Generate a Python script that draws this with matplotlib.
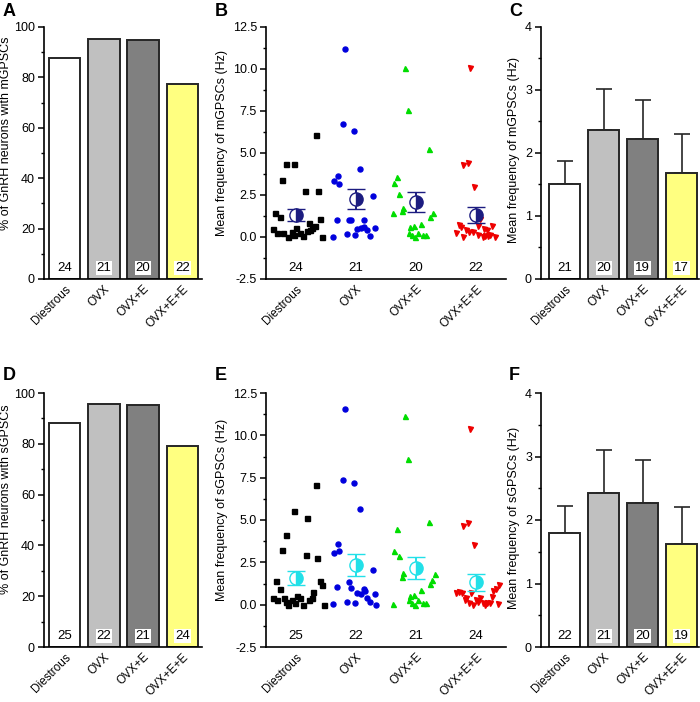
import matplotlib
matplotlib.use('Agg')
import matplotlib.pyplot as plt
from matplotlib.ticker import MultipleLocator, FormatStrFormatter
from matplotlib.transforms import ScaledTranslation

plt.rcParams['font.family'] = ['Liberation Sans', 'DejaVu Sans']
plt.rcParams['axes.unicode_minus'] = False

groups = ['Diestrous', 'OVX', 'OVX+E', 'OVX+E+E']
bar_colors = ['#ffffff', '#c0c0c0', '#808080', '#ffff80']

# A / D : % of cells with events, n recorded
pct_m = [87.5, 95.2, 95.0, 77.3]
n_all_m = [24, 21, 20, 22]
pct_s = [88.0, 95.5, 95.2, 79.2]
n_all_s = [25, 22, 21, 24]

# C / F : mean frequency of responding cells
freq_m = [1.51, 2.37, 2.22, 1.68]
sem_freq_m = [0.37, 0.64, 0.62, 0.62]
n_freq_m = [21, 20, 19, 17]
freq_s = [1.79, 2.43, 2.27, 1.62]
sem_freq_s = [0.43, 0.68, 0.68, 0.59]
n_freq_s = [22, 21, 20, 19]

# B : individual cells, mGPSCs (value, x jitter)
m_dies = [6.05, 4.35, 4.35, 3.37, 2.76, 2.72, 1.43, 1.17, 1.09, 0.83, 0.48, 0.24,
          0.24, 0.0, 0.32, 0.54, 0.24, 0.05, 0.44, 0.54, 0.67, 0.0, 0.10, 0.35]
m_dies_dx = [0.33, -0.17, -0.03, -0.24, 0.15, 0.36, -0.35, -0.27, 0.40, 0.21, -0.39, -0.31,
             -0.21, -0.13, -0.07, 0.0, 0.06, 0.11, 0.23, 0.27, 0.31, 0.43, -0.04, 0.18]
m_ovx = [11.19, 6.71, 6.29, 4.03, 3.35, 3.63, 3.17, 2.44, 1.03, 1.03, 1.03, 0.99,
         0.0, 0.18, 0.12, 0.50, 0.56, 0.58, 0.44, 0.08, 0.56]
m_ovx_dx = [-0.18, -0.22, -0.04, 0.06, -0.36, -0.30, -0.28, 0.28, -0.32, -0.12, -0.08, 0.13,
            -0.39, -0.15, -0.01, 0.02, 0.09, 0.14, 0.19, 0.24, 0.31]
m_ovxe = [10.08, 7.56, 5.22, 3.59, 3.23, 2.54, 1.75, 1.57, 1.45, 1.45, 1.21, 0.77,
          0.58, 0.65, 0.26, 0.12, 0.0, 0.26, 0.12, 0.12]
m_ovxe_dx = [-0.18, -0.14, 0.21, -0.32, -0.36, -0.28, -0.21, -0.24, -0.39, 0.28, 0.23, 0.09,
             -0.10, -0.04, -0.11, -0.07, -0.02, 0.04, 0.11, 0.17]
m_ovxee = [10.04, 4.29, 4.42, 2.99, 0.71, 0.58, 0.22, 0.0, 0.42, 0.32, 0.32, 0.12,
           0.0, 1.09, 0.63, 0.50, 0.44, 0.63, 0.0, 0.05, 0.05, 0.10]
m_ovxee_dx = [-0.10, -0.21, -0.14, -0.03, -0.29, -0.25, -0.33, -0.21, -0.16, -0.11, -0.05, 0.03,
              0.11, 0.07, 0.04, 0.13, 0.19, 0.27, 0.32, 0.15, 0.20, 0.24]
mean_m = [1.31, 2.26, 2.10, 1.31]
sem_m = [0.33, 0.62, 0.60, 0.46]

# E : individual cells, sGPSCs
s_dies = [7.09, 5.53, 5.09, 4.10, 3.22, 2.92, 2.78, 1.40, 0.95, 1.40, 1.16, 0.73, 0.38,
          0.28, 0.38, 0.0, 0.28, 0.53, 0.38, 0.0, 0.28, 0.38, 0.0, 0.08, 0.18]
s_dies_dx = [0.33, -0.03, 0.19, -0.17, -0.24, 0.16, 0.35, -0.34, -0.27, 0.40, 0.43, 0.29, -0.38,
             -0.31, -0.20, -0.13, -0.06, 0.01, 0.07, 0.11, 0.22, 0.26, 0.47, -0.02, -0.16]
s_ovx = [11.57, 7.34, 7.18, 5.66, 3.59, 3.04, 3.16, 2.05, 1.03, 1.32, 1.01, 0.91,
         0.83, 0.67, 0.63, 0.38, 0.14, 0.61, 0.04, 0.18, 0.08, 0.0]
s_ovx_dx = [-0.18, -0.22, -0.04, 0.06, -0.30, -0.36, -0.28, 0.28, -0.32, -0.12, -0.08, 0.13,
            0.15, 0.02, 0.09, 0.19, 0.24, 0.31, -0.39, -0.15, -0.01, 0.34]
s_ovxe = [11.17, 8.62, 4.87, 4.46, 3.18, 2.90, 1.89, 1.66, 1.80, 1.46, 1.22, 0.87,
          0.51, 0.57, 0.05, 0.30, 0.12, 0.0, 0.25, 0.10, 0.10]
s_ovxe_dx = [-0.18, -0.14, 0.21, -0.32, -0.36, -0.28, -0.21, -0.24, 0.31, 0.26, 0.23, 0.09,
             -0.10, -0.04, -0.39, -0.11, -0.07, -0.02, 0.04, 0.11, 0.17]
s_ovxee = [10.38, 4.62, 4.85, 3.53, 0.77, 0.67, 0.67, 0.37, 0.67, 0.28, 0.83, 0.95,
           1.14, 0.38, 0.08, 0.08, 0.08, 0.18, 0.0, 0.30, 0.12, 0.0, 0.45, 0.05]
s_ovxee_dx = [-0.10, -0.21, -0.14, -0.03, -0.28, -0.24, -0.33, -0.16, -0.08, -0.19, 0.29, 0.33,
              0.39, 0.07, 0.12, 0.18, 0.23, 0.03, -0.05, 0.0, -0.12, 0.15, 0.27, 0.36]
mean_s = [1.58, 2.34, 2.18, 1.31]
sem_s = [0.41, 0.65, 0.66, 0.48]

pt_colors = ['#000000', '#0000dd', '#00dd00', '#ee0000']
pt_markers = ['s', 'o', '^', 'v']

fig = plt.figure(figsize=(7.0, 7.02), dpi=100)


def style_axis(ax):
    for side in ['top', 'right']:
        ax.spines[side].set_visible(False)
    for side in ['left', 'bottom']:
        ax.spines[side].set_linewidth(1.2)
    ax.tick_params(axis='y', which='major', direction='out', length=4.5, width=1.1, labelsize=9, pad=2)
    ax.tick_params(axis='y', which='minor', direction='out', length=2.5, width=1.0)
    ax.tick_params(axis='x', length=0, labelsize=8.5, pad=3)


def set_xlabels(ax, dx):
    ax.set_xticks(range(1, 5))
    ax.set_xticklabels(groups, rotation=45, ha='right', va='top', rotation_mode='anchor')
    for lab in ax.get_xticklabels():
        lab.set_transform(lab.get_transform() + ScaledTranslation(dx / 100, 0, fig.dpi_scale_trans))


def bar_panel(rect, vals, ns, ymax, major, minor, ylabel, lab_y, errs=None, xlim=(0.477, 4.5)):
    ax = fig.add_axes(rect)
    x = range(1, 5)
    ax.bar(x, vals, width=0.8, color=bar_colors, edgecolor='#262626', linewidth=1.4, zorder=2)
    if errs is not None:
        ax.errorbar(x, vals, yerr=[[0] * 4, errs], fmt='none', ecolor='#262626',
                    elinewidth=1.2, capsize=5.5, capthick=1.2, zorder=1)
    for i, n in enumerate(ns):
        box = None if i == 0 else dict(facecolor='white', edgecolor='none', pad=0.6)
        ax.text(i + 1, lab_y, str(n), ha='center', va='center', fontsize=9.5, bbox=box, zorder=3)
    ax.set_xlim(*xlim)
    ax.set_ylim(0, ymax)
    ax.yaxis.set_major_locator(MultipleLocator(major))
    ax.yaxis.set_minor_locator(MultipleLocator(minor))
    style_axis(ax)
    set_xlabels(ax, 0.07)
    ax.set_ylabel(ylabel, fontsize=9)
    return ax


def scatter_panel(rect, vals, dxs, means, sems, mean_color, ns, ylabel):
    ax = fig.add_axes(rect)
    for i in range(4):
        xs = [i + 1 + d for d in dxs[i]]
        ax.plot(xs, vals[i], linestyle='none', marker=pt_markers[i], ms=3.6,
                color=pt_colors[i], mec=pt_colors[i], zorder=2)
    ax.errorbar(range(1, 5), means, yerr=sems, fmt='o', ms=9.5, color=mean_color, mfc=mean_color,
                mec=mean_color, mew=1.0, fillstyle='right', markerfacecoloralt='white',
                elinewidth=1.4, capsize=6.3, capthick=1.4, zorder=3)
    for i, n in enumerate(ns):
        ax.text(i + 1, -1.85, str(n), ha='center', va='center', fontsize=9.5)
    ax.set_xlim(0.5, 4.5)
    ax.set_ylim(-2.5, 12.5)
    ax.yaxis.set_major_locator(MultipleLocator(2.5))
    ax.yaxis.set_minor_locator(MultipleLocator(1.25))
    ax.yaxis.set_major_formatter(FormatStrFormatter('%.1f'))
    style_axis(ax)
    set_xlabels(ax, 0.04)
    ax.set_ylabel(ylabel, fontsize=9)
    return ax


top_row = 1 - 279 / 702
top_h = 252 / 702
bot_row = 1 - 647 / 702
bot_h = 254 / 702

axA = bar_panel([44 / 700, top_row, 158 / 700, top_h], pct_m, n_all_m, 100, 20, 10,
                '% of GnRH neurons with mGPSCs', 4.4)
axA.yaxis.set_label_coords(-0.2, 0.58)
axB = scatter_panel([266 / 700, top_row, 240 / 700, top_h],
                    [m_dies, m_ovx, m_ovxe, m_ovxee], [m_dies_dx, m_ovx_dx, m_ovxe_dx, m_ovxee_dx],
                    mean_m, sem_m, '#1c1c80', n_all_m, 'Mean frequency of mGPSCs (Hz)')
axB.yaxis.set_label_coords(-0.158, 0.54)
axC = bar_panel([541 / 700, top_row, 158 / 700, top_h], freq_m, n_freq_m, 4, 1, 0.5,
                'Mean frequency of mGPSCs (Hz)', 0.176, errs=sem_freq_m, xlim=(0.385, 4.45))
axC.yaxis.set_label_coords(-0.135, 0.51)

axD = bar_panel([44 / 700, bot_row, 158 / 700, bot_h], pct_s, n_all_s, 100, 20, 10,
                '% of GnRH neurons with sGPSCs', 4.4)
axD.yaxis.set_label_coords(-0.2, 0.58)
axE = scatter_panel([266 / 700, bot_row, 240 / 700, bot_h],
                    [s_dies, s_ovx, s_ovxe, s_ovxee], [s_dies_dx, s_ovx_dx, s_ovxe_dx, s_ovxee_dx],
                    mean_s, sem_s, '#22e0e8', n_all_s, 'Mean frequency of sGPSCs (Hz)')
axE.yaxis.set_label_coords(-0.158, 0.54)
axF = bar_panel([541 / 700, bot_row, 158 / 700, bot_h], freq_s, n_freq_s, 4, 1, 0.5,
                'Mean frequency of sGPSCs (Hz)', 0.176, errs=sem_freq_s, xlim=(0.385, 4.45))
axF.yaxis.set_label_coords(-0.135, 0.51)

for letter, xp, yp in [('A', 3, 12), ('B', 215, 12), ('C', 509, 12),
                       ('D', 3, 376), ('E', 215, 376), ('F', 509, 376)]:
    fig.text(xp / 700, 1 - yp / 702, letter, fontsize=13, fontweight='bold', va='center', ha='left')

fig.savefig('out.png', dpi=100)
